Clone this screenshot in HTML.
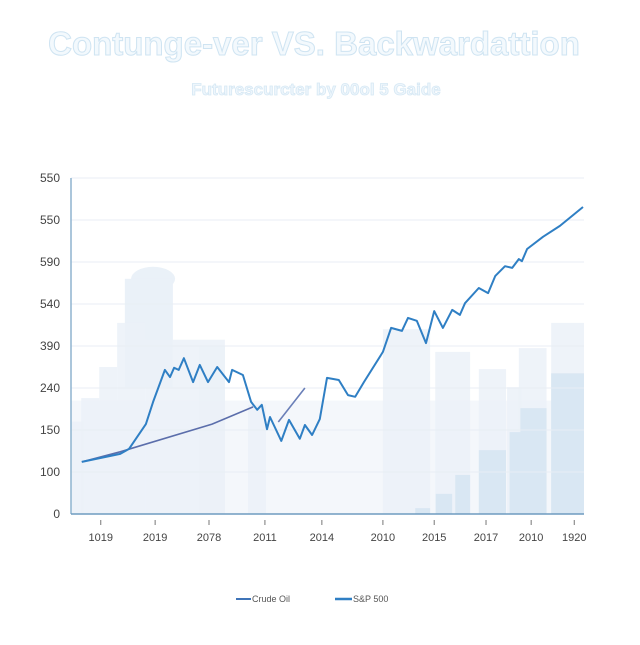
<!DOCTYPE html>
<html><head><meta charset="utf-8"><style>
body{margin:0;background:#fff;width:640px;height:640px;overflow:hidden;font-family:"Liberation Sans",sans-serif}
</style></head><body>
<svg width="640" height="640" viewBox="0 0 640 640">
<text x="314" y="55" text-anchor="middle" font-size="33" font-weight="bold" fill="#f3f9fd" stroke="#cfe4f2" stroke-width="1">Contunge-ver VS. Backwardattion</text>
<text x="316" y="95" text-anchor="middle" font-size="17" font-weight="bold" fill="#eef6fc" stroke="#d6e8f4" stroke-width="0.8">Futurescurcter by 00ol 5 Gaide</text>
<g id="plot"></g>
</svg>
<script>
const yTickVals=[0,100,200,300,400,500,600,700,800];
const yTickLabels=["0","100","150","240","390","540","590","550","550"];
const xTickT=[5.8,16.4,26.9,37.8,48.9,60.8,70.8,80.9,89.7,98.1];
const xTickLabels=["1019","2019","2078","2011","2014","2010","2015","2017","2010","1920"];
const mainT=[2.1,9.6,11.3,14.6,16,18.3,19.3,20.1,21,22,23.8,25.1,26.7,28.5,30.8,31.4,33.5,35.1,36.3,37.2,38.2,38.8,41,42.5,44.6,45.6,47,48.5,49.9,52.2,54,55.4,57.1,60.8,62.4,64.5,65.7,67.4,69.2,70.8,72.5,74.3,75.8,76.8,79.5,81.3,82.7,84.6,86,87.3,87.9,88.9,92,95.3,99.8];
const mainV=[124,143,155,214,267,343,326,348,343,371,314,355,314,350,314,343,331,267,248,260,202,231,174,224,179,212,188,226,324,319,283,279,314,386,443,436,467,460,407,483,443,486,474,502,538,526,567,590,586,607,602,631,660,686,731];
const sec1T=[2.1,9.6,27.5,35.5];
const sec1V=[124,148,214,255];
const sec2T=[40.4,45.6];
const sec2V=[219,300];
const lightBarsT0=[0,2,5.5,9,14.5,25,34.5,60.8,71,79.5,85,87.3,93.6];
const lightBarsT1=[2.5,5.5,9,14.5,30,30,38,70,77.8,84.8,87.8,92.7,100];
const lightBarsV=[220,276,350,455,415,400,260,440,386,345,302,395,455];
const darkBarsT0=[67.1,71.1,74.9,79.5,85.5,87.6,93.6];
const darkBarsT1=[70,74.3,77.8,84.8,87.8,92.7,100];
const darkBarsV=[14,48,93,152,195,252,335];
const L=71,R=584,B=514,T=178;
const xs=t=>L+(t/100)*(R-L);
const ys=v=>B-(v/800)*(B-T);
const NS="http://www.w3.org/2000/svg";
const g=document.getElementById('plot');
function mk(tag,attrs){const e=document.createElementNS(NS,tag);for(const k in attrs)e.setAttribute(k,attrs[k]);g.appendChild(e);return e;}
let bg=mk('rect',{x:L,y:ys(270),width:R-L,height:B-ys(270),fill:'#f4f7fb'});


let head=mk('ellipse',{cx:xs(16),cy:ys(560),rx:22,ry:12,fill:'#eaf1f8'});


let body=mk('rect',{x:xs(10.5),y:ys(560),width:48,height:ys(300)-ys(560),fill:'#eaf1f8'});


for(let i=0;i<lightBarsV.length;i++){
 const r=mk('rect',{x:xs(lightBarsT0[i]),y:ys(lightBarsV[i]),width:xs(lightBarsT1[i])-xs(lightBarsT0[i]),height:B-ys(lightBarsV[i]),fill:'#ebf1f8',opacity:0.85});
 
 
}
for(let i=0;i<darkBarsV.length;i++){
 const r=mk('rect',{x:xs(darkBarsT0[i]),y:ys(darkBarsV[i]),width:xs(darkBarsT1[i])-xs(darkBarsT0[i]),height:B-ys(darkBarsV[i]),fill:'#d9e7f3'});
 
 
}
yTickVals.forEach((v,i)=>{
 const ln=mk('line',{x1:L,x2:R,y1:ys(v),y2:ys(v),stroke:'#e8eef4','stroke-width':1});
 
 
 const tx=mk('text',{x:60,y:ys(v)+4,'text-anchor':'end','font-size':12,fill:'#444'});
 tx.textContent=yTickLabels[i];
 
 
});
xTickT.forEach((t,i)=>{
 const tk=mk('line',{x1:xs(t),x2:xs(t),y1:B+6,y2:B+11,stroke:'#777','stroke-width':1});
 
 
 const tx=mk('text',{x:xs(t),y:541,'text-anchor':'middle','font-size':11,fill:'#444'});
 tx.textContent=xTickLabels[i];
 
 
});
let ya=mk('line',{x1:L,x2:L,y1:T,y2:B,stroke:'#8fb4cf','stroke-width':1.5});


let xa=mk('line',{x1:L,x2:R,y1:B,y2:B,stroke:'#6f9cc0','stroke-width':1.5});


function pts(ts,vs){return ts.map((t,i)=>xs(t).toFixed(1)+','+ys(vs[i]).toFixed(1)).join(' ');}
let s1=mk('polyline',{points:pts(sec1T,sec1V),fill:'none',stroke:'#5b6eab','stroke-width':1.6});


let s2=mk('polyline',{points:pts(sec2T,sec2V),fill:'none',stroke:'#6a7fb8','stroke-width':1.6});


let m=mk('polyline',{points:pts(mainT,mainV),fill:'none',stroke:'#2f7fc4','stroke-width':2,'stroke-linejoin':'round'});


let l1=mk('line',{x1:236,x2:251,y1:599,y2:599,stroke:'#3f74b8','stroke-width':2});


let t1=mk('text',{x:252,y:602,'font-size':9,fill:'#555'});t1.textContent='Crude Oil';


let l2=mk('line',{x1:335,x2:352,y1:599,y2:599,stroke:'#2f7fc4','stroke-width':2.5});


let t2=mk('text',{x:353,y:602,'font-size':9,fill:'#555'});t2.textContent='S&P 500';


</script>
</body></html>
